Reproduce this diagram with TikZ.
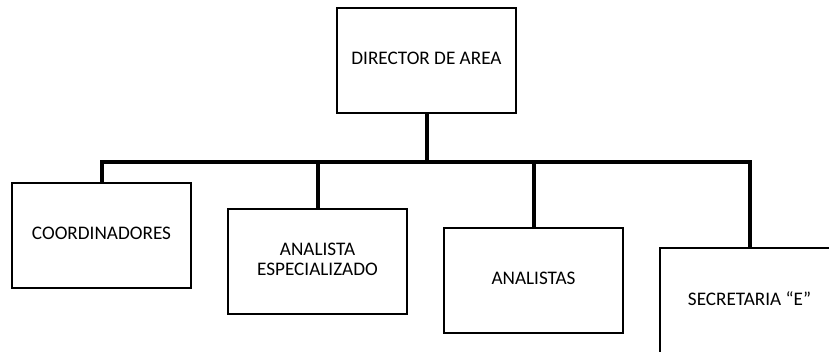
\documentclass[tikz,border=0pt]{standalone}
\usepackage{fontspec}
\setmainfont{Carlito}
\begin{document}
\begin{tikzpicture}[x=1pt,y=-1pt,
  orgbox/.style={draw=black,line width=2pt,fill=white,minimum width=179pt,minimum height=105pt,inner sep=0pt,align=center,font=\fontsize{19.2}{20}\selectfont,text depth=4pt},
  wire/.style={line width=4pt,line join=miter}]
\useasboundingbox (0,0) rectangle (829,351);
\clip (0,0) rectangle (829,351);
\node[orgbox] (dir) at (426.5,60.5) {DIRECTOR DE AREA};
\node[orgbox] (coord) at (101.5,235) {COORDINADORES};
\node[orgbox] (esp) at (317.5,261) {ANALISTA\\ESPECIALIZADO};
\node[orgbox] (ana) at (533.5,280.5) {ANALISTAS};
\node[orgbox] (sec) at (749.5,300.5) {SECRETARIA “E”};
\coordinate (busL) at (101.5,162);
\coordinate (busR) at (749.5,162);
\draw[wire] (coord.north) -- (busL) -- (busR) -- (sec.north);
\draw[wire] (dir.south) -- (dir.south |- busL);
\draw[wire] (esp.north) -- (esp.north |- busL);
\draw[wire] (ana.north) -- (ana.north |- busL);
\end{tikzpicture}
\end{document}
